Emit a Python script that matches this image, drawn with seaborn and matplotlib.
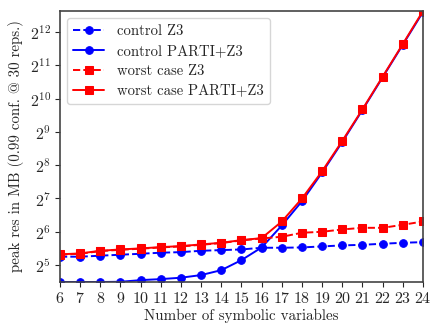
import matplotlib
matplotlib.use("Agg")
import matplotlib.pyplot as plt
import matplotlib.ticker as mticker
import seaborn as sns
import pandas as pd

n_vars = list(range(6, 25))
control_z3 = [38.1, 38.1, 38.9, 39.7, 40.5, 41.4, 41.9, 43.1, 43.7, 44.3,
              45.9, 45.9, 46.2, 47.2, 48.2, 48.8, 49.9, 50.9, 51.6]
control_parti = [22.5, 22.5, 22.5, 22.6, 23.4, 23.9, 24.6, 26.0, 28.8, 35.5,
                 46.2, 73.0, 121.0, 220.0, 416.0, 809.0, 1596.0, 3147.0, 6208.0]
worst_z3 = [39.7, 40.5, 42.8, 44.0, 45.0, 46.2, 47.2, 48.8, 50.6, 53.5,
            55.7, 57.7, 62.7, 64.0, 67.2, 69.5, 69.5, 74.0, 79.3]
worst_parti = [40.0, 40.8, 43.1, 44.3, 45.3, 46.5, 47.5, 49.2, 50.9, 53.8,
               56.1, 79.3, 128.0, 226.0, 425.0, 820.0, 1618.0, 3191.0, 6338.0]

labels = ["control Z3", "control PARTI+Z3", "worst case Z3", "worst case PARTI+Z3"]
series = [control_z3, control_parti, worst_z3, worst_parti]
colors = ["blue", "blue", "red", "red"]
dashes = ["--", "-", "--", "-"]
markers = ["o", "o", "s", "s"]
msizes = [5.5, 5.5, 5.5, 5.5]

sns.set_style("ticks")
plt.rcParams["font.family"] = ["cmr10", "DejaVu Serif"]
plt.rcParams["mathtext.fontset"] = "cm"
plt.rcParams["axes.formatter.use_mathtext"] = True
plt.rcParams["font.size"] = 11

fig = plt.figure(figsize=(4.39, 3.24), dpi=100)
ax = fig.add_axes([60 / 439, 1 - 282 / 324, 363 / 439, 271 / 324])

for lab, vals, c, ls, mk, ms in zip(labels, series, colors, dashes, markers, msizes):
    df = pd.DataFrame({"x": n_vars, "y": vals})
    sns.lineplot(data=df, x="x", y="y", ax=ax, color=c, linestyle=ls,
                 marker=mk, markersize=ms, markeredgecolor=c, linewidth=1.4,
                 label=lab)

ax.set_yscale("log", base=2)
ax.yaxis.set_major_locator(mticker.LogLocator(base=2))
ax.yaxis.set_major_formatter(mticker.LogFormatterSciNotation(base=2))
ax.yaxis.set_minor_locator(mticker.NullLocator())
allv = [v for s in series for v in s]
ax.set_ylim(min(allv), max(allv))
ax.set_xlim(n_vars[0], n_vars[-1])
ax.set_xticks(n_vars)
ax.set_xlabel("Number of symbolic variables", fontsize=10.8, labelpad=2)
ax.set_ylabel("peak res in MB (0.99 conf. @ 30 reps.)", fontsize=10.8, labelpad=4)
ax.tick_params(axis="x", labelsize=11.5, length=3.5, pad=3)
ax.tick_params(axis="y", labelsize=11.5, length=3.5, pad=3)
for sp in ax.spines.values():
    sp.set_visible(True)
    sp.set_color("#444444")
    sp.set_linewidth(1.2)

ax.legend(loc="upper left", fontsize=10.6, frameon=True, framealpha=0.8,
          edgecolor="#cccccc", handlelength=2.1, handletextpad=0.9,
          labelspacing=0.42, borderaxespad=0.5)

fig.savefig("out.png", dpi=100)
